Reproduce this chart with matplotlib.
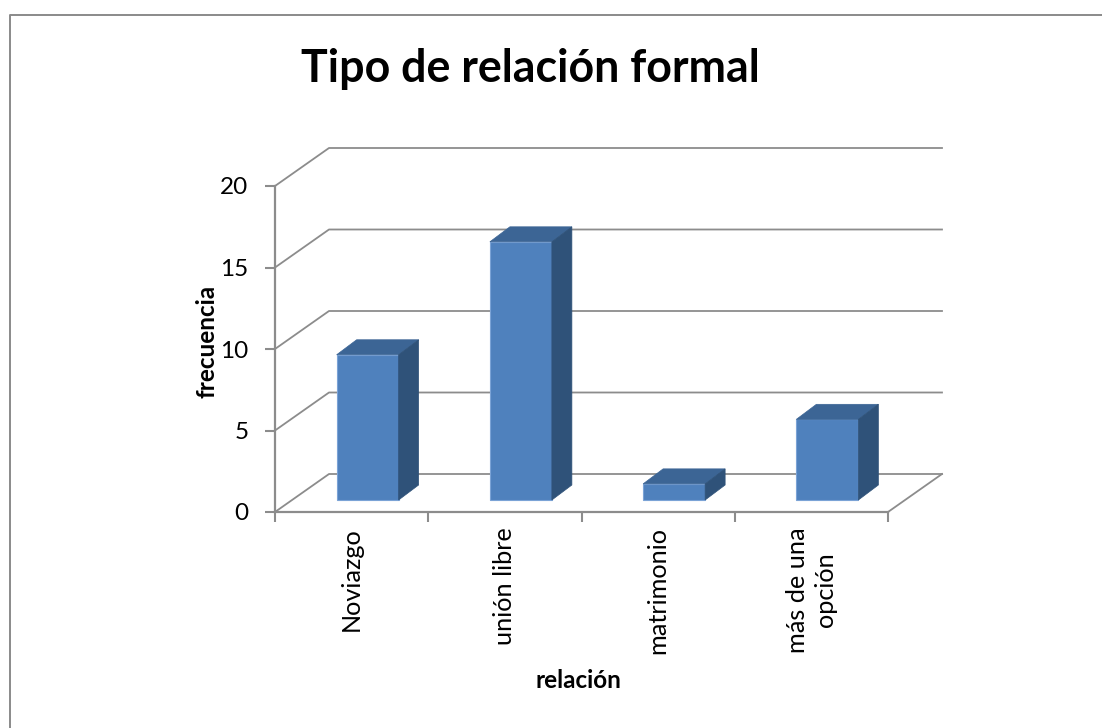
import matplotlib
matplotlib.use('Agg')
import matplotlib.pyplot as plt
from matplotlib.patches import Polygon
from matplotlib.lines import Line2D

categories = ['Noviazgo', 'unión libre', 'matrimonio', 'más de una\nopción']
values = [9, 16, 1, 5]
yticks = [0, 5, 10, 15, 20]

W, H = 1102, 728
fig = plt.figure(figsize=(W/100, H/100), dpi=100)
fig.patch.set_facecolor('white')
# only the left and top edges of the chart frame are in the picture
fig.add_artist(Line2D([10/W, 10/W, 1], [0, 1-15/H, 1-15/H], transform=fig.transFigure,
                      color='#8a8a8a', lw=1.4))

# front plane of the fake 3d box
ax = fig.add_axes([275/W, 1-512/H, 613/W, 326/H])
ax.set_xlim(0, len(categories))
ax.set_ylim(0, 20)
ax.patch.set_visible(False)

# px sizes turned into data units
ux = len(categories)/613.0
uy = 20/326.0
wall_dx, wall_dy = 54*ux, 38*uy
off_x, off_y = 16*ux, 12*uy
depth_x, depth_y = 20*ux, 15*uy
bar_w = 62*ux

grid = '#8c8c8c'
for t in yticks:
    ax.plot([0, wall_dx, len(categories)+wall_dx], [t, t+wall_dy, t+wall_dy],
            color=grid, lw=1.3, clip_on=False, zorder=1)
ax.plot([len(categories), len(categories)+wall_dx], [0, wall_dy], color=grid, lw=1.3,
        clip_on=False, zorder=1)

for i, v in enumerate(values):
    x0 = i+0.5-bar_w/2+off_x
    x1 = x0+bar_w
    y0 = off_y
    y1 = off_y+v*0.99
    ax.add_patch(Polygon([(x0, y0), (x1, y0), (x1, y1), (x0, y1)], fc='#4f81bd',
                         ec='#7ba3d6', lw=0.8, clip_on=False, zorder=3))
    ax.add_patch(Polygon([(x0, y1), (x1, y1), (x1+depth_x, y1+depth_y), (x0+depth_x, y1+depth_y)],
                         fc='#3c6595', ec='#3c6595', lw=0.5, clip_on=False, zorder=3))
    ax.add_patch(Polygon([(x1, y0), (x1+depth_x, y0+depth_y), (x1+depth_x, y1+depth_y), (x1, y1)],
                         fc='#2f5279', ec='#2f5279', lw=0.5, clip_on=False, zorder=3))

for s in ['top', 'right']:
    ax.spines[s].set_visible(False)
for s in ['left', 'bottom']:
    ax.spines[s].set_color(grid)
    ax.spines[s].set_linewidth(1.6)

ax.set_yticks(yticks)
ax.set_xticks(range(len(categories)+1))
ax.set_xticklabels([])
ax.set_xticks([i+0.5 for i in range(len(categories))], minor=True)
ax.set_xticklabels(categories, minor=True, rotation=90, family='Lato', fontsize=18.2,
                   linespacing=1.3, va='top', ha='center')
ax.tick_params(axis='x', which='minor', length=0, pad=11)
ax.tick_params(axis='x', which='major', length=7, color=grid, width=1.5, direction='out')
ax.tick_params(axis='y', length=7, color=grid, width=1.5, pad=12)
for lab in ax.get_yticklabels():
    lab.set_family('Lato')
    lab.set_fontsize(17.5)

fig.text(530/W, 1-69/H, 'Tipo de relación formal', family='Lato', fontweight='bold',
         fontsize=32.2, ha='center', va='center')
fig.text(207/W, 1-341/H, 'frecuencia', family='Lato', fontweight='bold', fontsize=17.5,
         rotation=90, ha='center', va='center')
fig.text(578/W, 1-680/H, 'relación', family='Lato', fontweight='bold', fontsize=17.5,
         ha='center', va='center')

fig.savefig('out.png', dpi=100)
